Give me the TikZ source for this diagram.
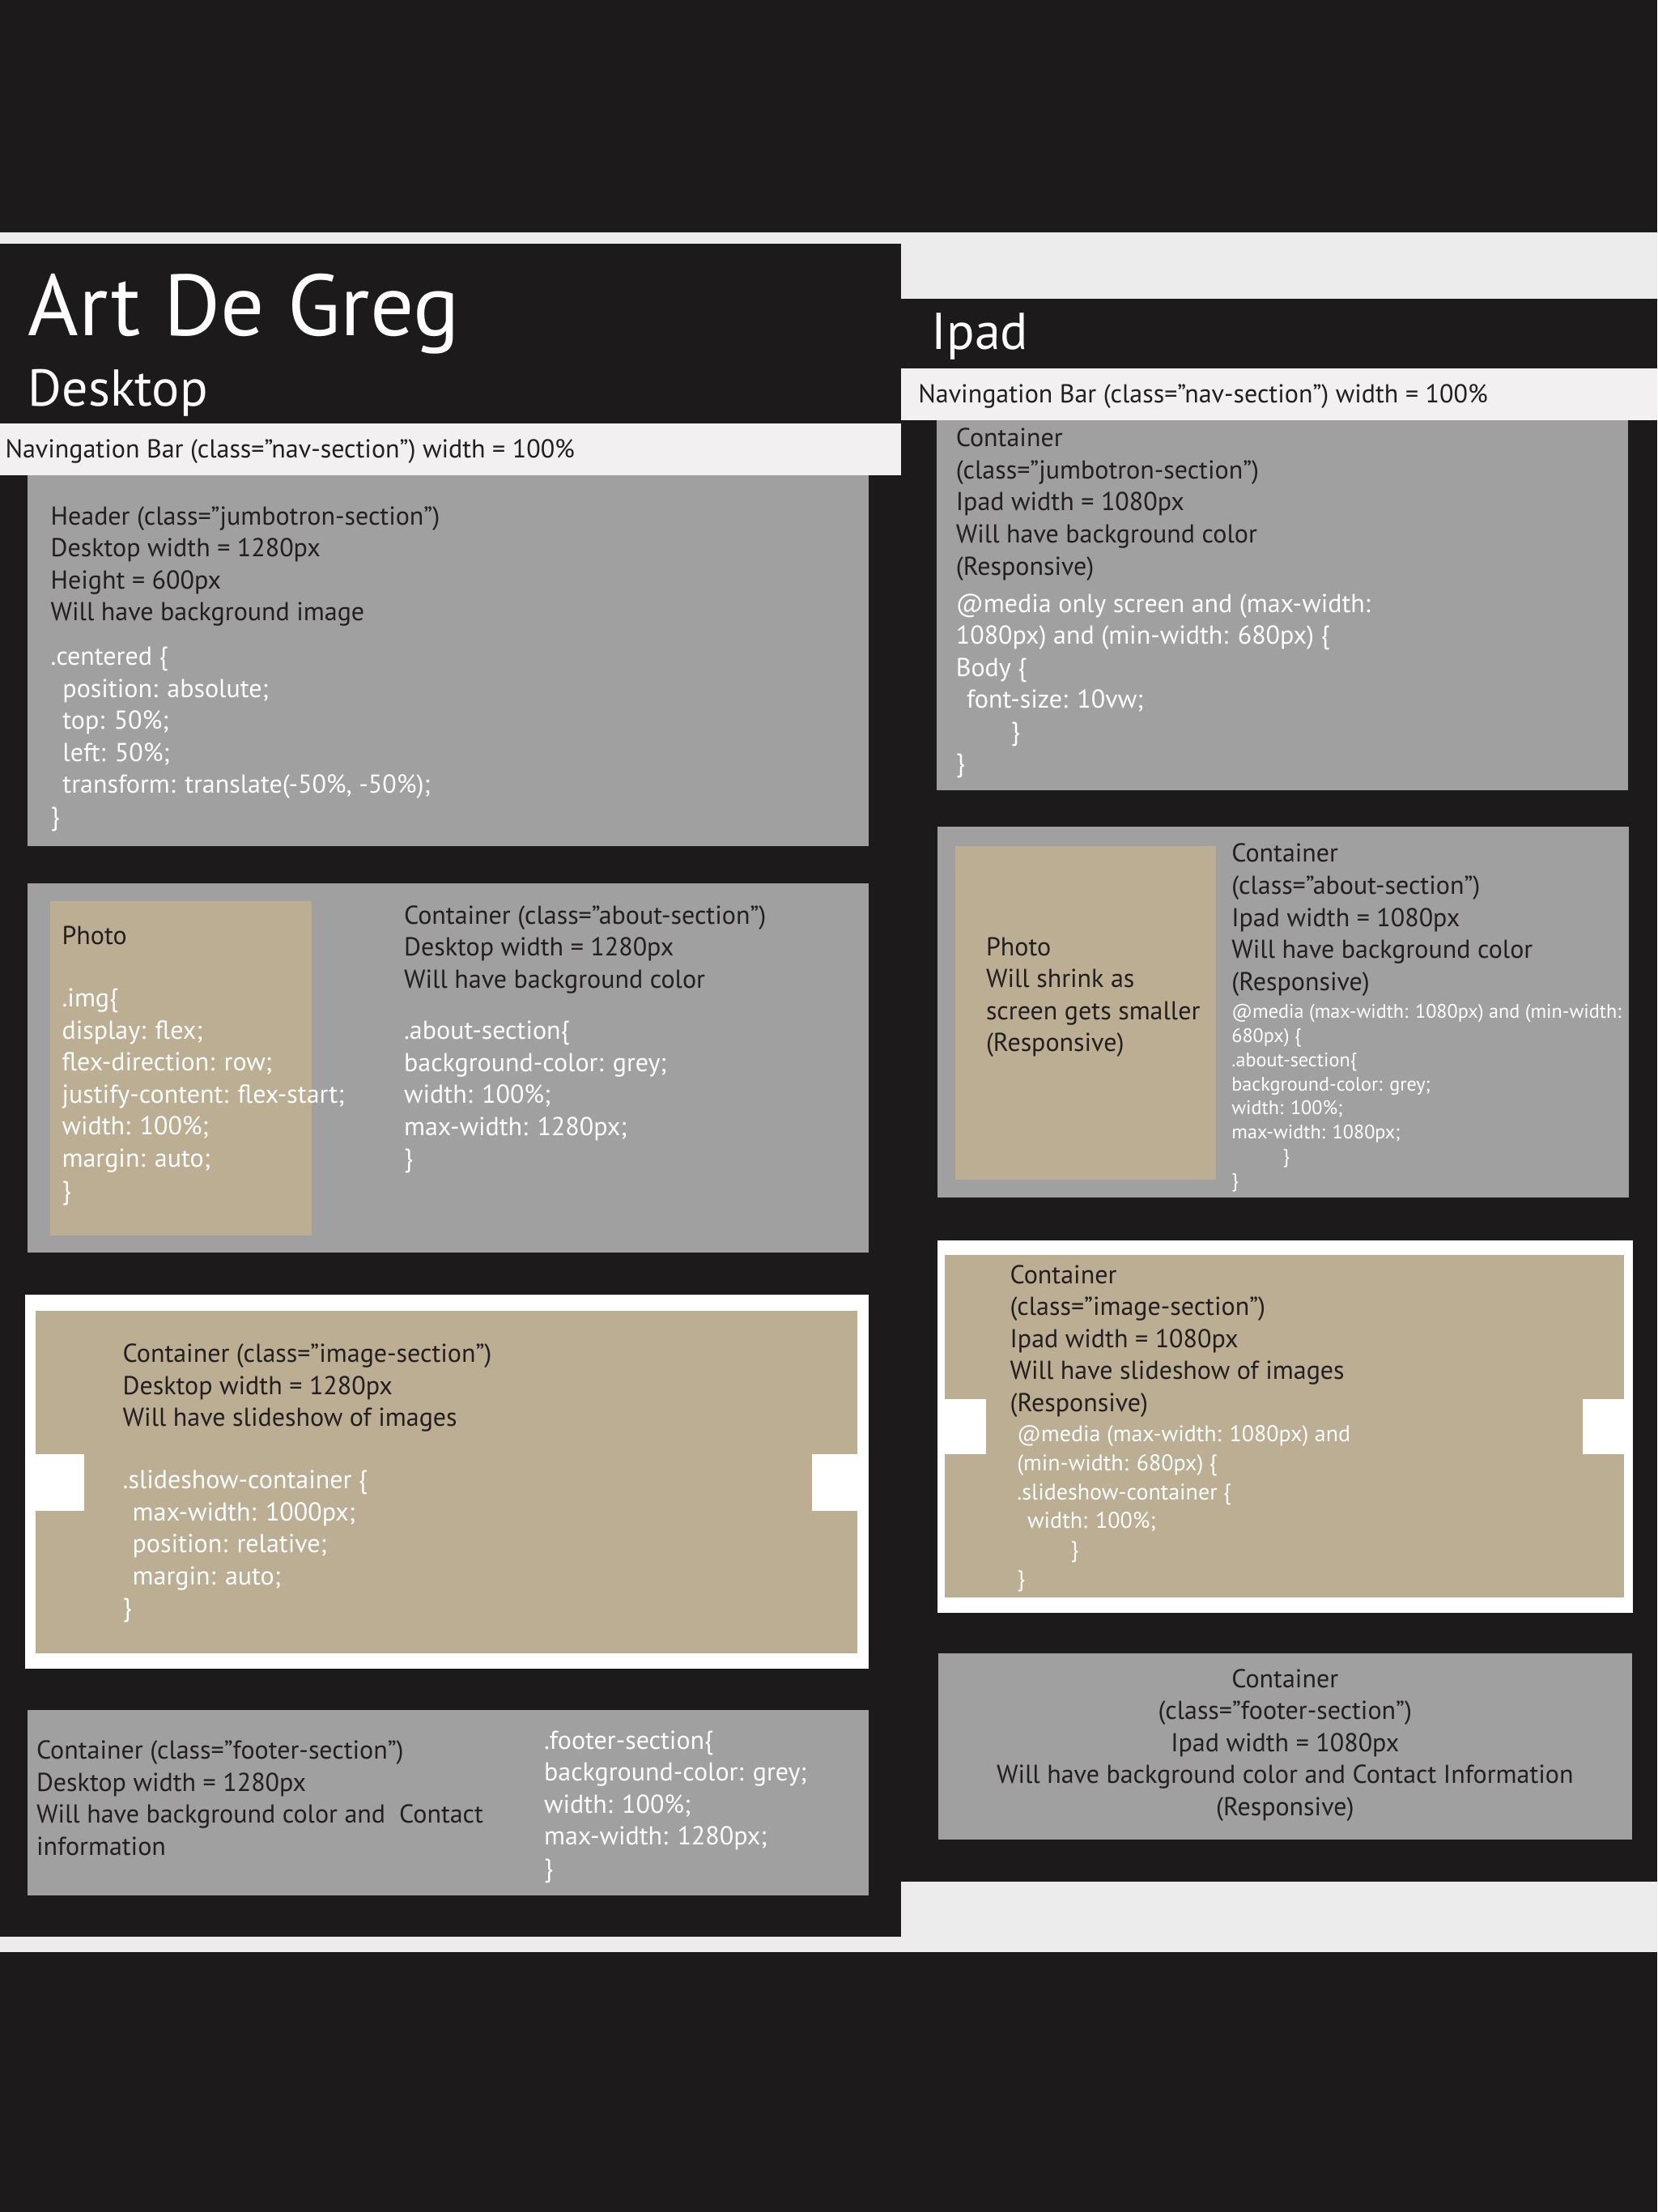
\documentclass[tikz,border=0pt]{standalone}
\usepackage{fontspec}
\setmainfont{PT Sans}
\definecolor{bgdark}{HTML}{1C1A1B}
\definecolor{stripe}{HTML}{ECECEC}
\definecolor{navlight}{HTML}{F2F0F1}
\definecolor{boxgrey}{HTML}{A0A0A0}
\definecolor{phototan}{HTML}{BCAE93}
\definecolor{inkdark}{HTML}{231F20}
\begin{document}
\begin{tikzpicture}[x=0.4357pt,y=-0.4357pt,
   desc/.style={anchor=base west,align=left,inner sep=0pt,text=inkdark,font=\fontsize{8}{9.89}\selectfont},
   code/.style={desc,text=white},
   smallcode/.style={code,font=\fontsize{6.05}{7.45}\selectfont},
   midcode/.style={code,font=\fontsize{7}{8.93}\selectfont}]
\fill[bgdark] (0,0) rectangle (1175,1568);
\useasboundingbox (0,0) rectangle (1175,1568);
\fill[stripe] (0,165) rectangle (1175,1384);
\fill[bgdark] (0,173) rectangle (639,1373);
\fill[bgdark] (639,212) rectangle (1175,1334);
% desktop side (multi-line nodes sit on the baseline of their last line)
\node[code,font=\fontsize{26.8}{30}\selectfont] (title) at (19.6,238) {Art De Greg};
\node[code,font=\fontsize{16}{19}\selectfont] (desktop) at (19.6,287.8) {Desktop};
\fill[navlight] (0,300) rectangle (638.5,337);
\node[desc] (navdesk) at (3.3,324.7) {Navingation Bar (class=”nav-section”) width = 100\%};
\fill[boxgrey] (19.6,337) rectangle (616,600);
\node[desc] (jumbodesk) at (35.5,440.1) {Header (class=”jumbotron-section”)\\Desktop width = 1280px\\Height = 600px\\Will have background image};
\node[code] (jumbocss) at (35.5,585) {.centered \{\\\hspace{3.7pt}position: absolute;\\\hspace{3.7pt}top: 50\%;\\\hspace{3.7pt}left: 50\%;\\\hspace{3.7pt}transform: translate(-50\%, -50\%);\\\}};
\fill[boxgrey] (19.6,626) rectangle (616,888);
\fill[phototan] (35.5,639) rectangle (221,876);
\node[desc] (photodesk) at (43.5,669.6) {Photo};
\node[code] (imgcss) at (43.5,850) {.img\{\\display: flex;\\flex-direction: row;\\justify-content: flex-start;\\width: 100\%;\\margin: auto;\\\}};
\node[desc] (aboutdesk) at (286,700.4) {Container (class=”about-section”)\\Desktop width = 1280px\\Will have background color};
\node[code] (aboutcss) at (286,827.5) {.about-section\{\\background-color: grey;\\width: 100\%;\\max-width: 1280px;\\\}};
\fill[white] (17.7,918) rectangle (616,1183);
\fill[phototan] (25,929) rectangle (608,1172);
\fill[white] (25,1031) rectangle (59.6,1071);
\fill[white] (575.7,1031) rectangle (608,1071);
\node[desc] (slidedesk) at (86.6,1011.2) {Container (class=”image-section”)\\Desktop width = 1280px\\Will have slideshow of images};
\node[code] (slidecss) at (86.6,1146) {.slideshow-container \{\\\hspace{3pt}max-width: 1000px;\\\hspace{3pt}position: relative;\\\hspace{3pt}margin: auto;\\\}};
\fill[boxgrey] (19.6,1212) rectangle (616,1343.5);
\node[desc] (footdesk) at (25.4,1315) {Container (class=”footer-section”)\\Desktop width = 1280px\\Will have background color and\ \ Contact\\information};
\node[code] (footcss) at (385.3,1330.5) {.footer-section\{\\background-color: grey;\\width: 100\%;\\max-width: 1280px;\\\}};
% ipad side
\fill[navlight] (639,261) rectangle (1175,297.6);
\node[code,font=\fontsize{16}{19}\selectfont] (ipad) at (660,247.7) {Ipad};
\node[desc] (navipad) at (650.6,285.6) {Navingation Bar (class=”nav-section”) width = 100\%};
\fill[boxgrey] (664.3,297.6) rectangle (1154.3,560);
\node[desc] (jumboipad) at (677.3,407.5) {Container\\(class=”jumbotron-section”)\\Ipad width = 1080px\\Will have background color\\(Responsive)};
\node[code] (jumbomedia) at (677.3,547.5) {@media only screen and (max-width:\\1080px) and (min-width: 680px) \{\\Body \{\\\hspace{3.3pt}font-size: 10vw;\\\hspace{17pt}\}\\\}};
\fill[boxgrey] (664.4,586) rectangle (1155,849);
\fill[phototan] (677,599.6) rectangle (862,836);
\node[desc] (photoipad) at (698.6,745.5) {Photo\\Will shrink as\\screen gets smaller\\(Responsive)};
\node[desc] (aboutipad) at (872.7,702) {Container\\(class=”about-section”)\\Ipad width = 1080px\\Will have background color\\(Responsive)};
\node[smallcode] (aboutmedia) at (872.7,841.6) {@media (max-width: 1080px) and (min-width:\\680px) \{\\.about-section\{\\background-color: grey;\\width: 100\%;\\max-width: 1080px;\\\hspace{15.8pt}\}\\\}};
\fill[white] (664.7,879) rectangle (1157.8,1143);
\fill[phototan] (670,889.7) rectangle (1151.5,1132.6);
\fill[white] (670,991.5) rectangle (699,1031);
\fill[white] (1122,991.5) rectangle (1151.5,1031);
\node[desc] (slideipad) at (715.6,1000.5) {Container\\(class=”image-section”)\\Ipad width = 1080px\\Will have slideshow of images\\(Responsive)};
\node[midcode] (slidemedia) at (720.6,1124.5) {@media (max-width: 1080px) and\\(min-width: 680px) \{\\.slideshow-container \{\\\hspace{3.2pt}width: 100\%;\\\hspace{16.6pt}\}\\\}};
\fill[boxgrey] (665,1172) rectangle (1157.3,1304);
\node[desc,anchor=base,align=center] (footipad) at (911,1287) {Container\\(class=”footer-section”)\\Ipad width = 1080px\\Will have background color and Contact Information\\(Responsive)};
\end{tikzpicture}
\end{document}
